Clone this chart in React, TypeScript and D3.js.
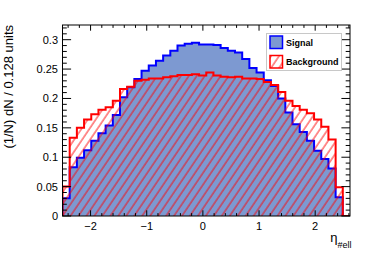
import React from 'react'
import * as d3 from 'd3'

// eta histogram: 40 bins of 0.128 starting at -2.5
const etaMin = -2.5
const binWidth = 0.128

const signal = [0.030, 0.083, 0.099, 0.112, 0.128, 0.141, 0.154, 0.172, 0.202, 0.219,
  0.233, 0.247, 0.256, 0.264, 0.273, 0.281, 0.290, 0.293, 0.295, 0.292,
  0.292, 0.291, 0.286, 0.281, 0.278, 0.267, 0.252, 0.244, 0.231, 0.221,
  0.200, 0.176, 0.156, 0.143, 0.128, 0.111, 0.097, 0.081, 0.032, 0]

const background = [0.050, 0.133, 0.150, 0.164, 0.173, 0.181, 0.185, 0.196, 0.216, 0.220,
  0.230, 0.232, 0.234, 0.234, 0.236, 0.238, 0.240, 0.240, 0.241, 0.239,
  0.244, 0.239, 0.237, 0.236, 0.237, 0.234, 0.234, 0.233, 0.228, 0.223,
  0.211, 0.196, 0.187, 0.181, 0.175, 0.164, 0.152, 0.130, 0.049, 0]

const xMajor = [-2, -1, 0, 1, 2]
const yMajor = [0, 0.05, 0.1, 0.15, 0.2, 0.25, 0.3]
const yLabels = ['0', '0.05', '0.1', '0.15', '0.2', '0.25', '0.3']

const legendItems = ['Signal', 'Background']

const width = 374
const height = 253
const frame = { left: 62.5, right: 350, top: 25, bottom: 216 }
const font = 'Liberation Sans, Arial, Helvetica, sans-serif'

export default function App() {
  const etaMax = etaMin + signal.length * binWidth

  const x = d3.scaleLinear().domain([etaMin, etaMax]).range([frame.left, frame.right])
  const y = d3.scaleLinear().domain([0, 0.325]).range([frame.bottom, frame.top])

  const steps = (values: number[]) => {
    const pts: [number, number][] = [[etaMin, 0]]
    values.forEach((v, i) => {
      const a = etaMin + i * binWidth
      pts.push([a, v], [a + binWidth, v])
    })
    return pts
  }
  const line = d3.line<[number, number]>().x(d => x(d[0])).y(d => y(d[1]))
  const area = (values: number[]) => line([...steps(values), [etaMax, 0]]) + 'Z'

  // minor ticks
  const xMinor = d3.range(-12, 14).map(k => k * 0.2).filter(v => Math.abs(v - Math.round(v)) > 1e-6)
  const yMinor = d3.range(0, 33).map(k => k * 0.01).filter(v => Math.abs(v / 0.05 - Math.round(v / 0.05)) > 1e-6)

  const xTickMaj = 5.7, xTickMin = 2.9
  const yTickMaj = 8.6, yTickMin = 4.3

  return (
    <svg width={width} height={height} style={{ position: 'absolute', left: 0, top: 0, background: '#fff' }}
      fontFamily={font}>
      <defs>
        <clipPath id="frameClip">
          <rect x={frame.left} y={frame.top} width={frame.right - frame.left} height={frame.bottom - frame.top} />
        </clipPath>
        <pattern id="hatch" patternUnits="userSpaceOnUse" width={6.6} height={12} patternTransform="rotate(34)">
          <line x1={1} y1={0} x2={1} y2={12} stroke="#ff0000" strokeWidth={0.9} />
        </pattern>
      </defs>

      <g clipPath="url(#frameClip)">
        <path d={area(signal)} fill="#7d99d1" />
        <path d={line(steps(signal)) ?? ''} fill="none" stroke="#0000ff" strokeWidth={2} />
        <path d={area(background)} fill="url(#hatch)" />
        <path d={line(steps(background)) ?? ''} fill="none" stroke="#ff0000" strokeWidth={2} />
      </g>

      {/* frame */}
      <rect x={frame.left} y={frame.top} width={frame.right - frame.left} height={frame.bottom - frame.top}
        fill="none" stroke="#000" strokeWidth={1} />

      {/* x ticks, bottom and top */}
      <g stroke="#000" strokeWidth={1}>
        {xMajor.map(v => (
          <g key={'xm' + v}>
            <line x1={x(v)} x2={x(v)} y1={frame.bottom} y2={frame.bottom - xTickMaj} />
            <line x1={x(v)} x2={x(v)} y1={frame.top} y2={frame.top + xTickMaj} />
          </g>
        ))}
        {xMinor.map(v => (
          <g key={'xn' + v}>
            <line x1={x(v)} x2={x(v)} y1={frame.bottom} y2={frame.bottom - xTickMin} />
            <line x1={x(v)} x2={x(v)} y1={frame.top} y2={frame.top + xTickMin} />
          </g>
        ))}
        {yMajor.map(v => (
          <g key={'ym' + v}>
            <line x1={frame.left} x2={frame.left + yTickMaj} y1={y(v)} y2={y(v)} />
            <line x1={frame.right} x2={frame.right - yTickMaj} y1={y(v)} y2={y(v)} />
          </g>
        ))}
        {yMinor.map(v => (
          <g key={'yn' + v}>
            <line x1={frame.left} x2={frame.left + yTickMin} y1={y(v)} y2={y(v)} />
            <line x1={frame.right} x2={frame.right - yTickMin} y1={y(v)} y2={y(v)} />
          </g>
        ))}
      </g>

      {/* tick labels */}
      <g fontSize={11} fill="#000">
        {xMajor.map(v => (
          <text key={'xl' + v} x={x(v)} y={229.5} textAnchor="middle">{v < 0 ? '\u2212' + Math.abs(v) : String(v)}</text>
        ))}
        {yMajor.map((v, i) => (
          <text key={'yl' + v} x={58} y={y(v) + 4} textAnchor="end">{yLabels[i]}</text>
        ))}
      </g>

      {/* axis titles */}
      <text transform={`translate(12.5, ${frame.top}) rotate(-90)`} textAnchor="end" fontSize={13}>
        (1/N) dN / 0.128 units
      </text>
      <text x={351.5} y={242} textAnchor="end" fontSize={13}>
        η<tspan fontSize={9} dy={6}>#ell</tspan>
      </text>

      {/* legend */}
      <g>
        <rect x={266.5} y={33.5} width={75} height={37} fill="#fff" stroke="#c8c8c8" strokeWidth={1} />
        {legendItems.map((name, i) => (
          <g key={name} transform={`translate(0, ${i * 19.5})`}>
            <rect x={270} y={36} width={12.5} height={12.5}
              fill={i === 0 ? '#7d99d1' : 'url(#hatch)'}
              stroke={i === 0 ? '#0000ff' : '#ff0000'} strokeWidth={1.5} />
            <text x={286} y={45.8} fontSize={9} fontWeight="bold">{name}</text>
          </g>
        ))}
      </g>
    </svg>
  )
}
